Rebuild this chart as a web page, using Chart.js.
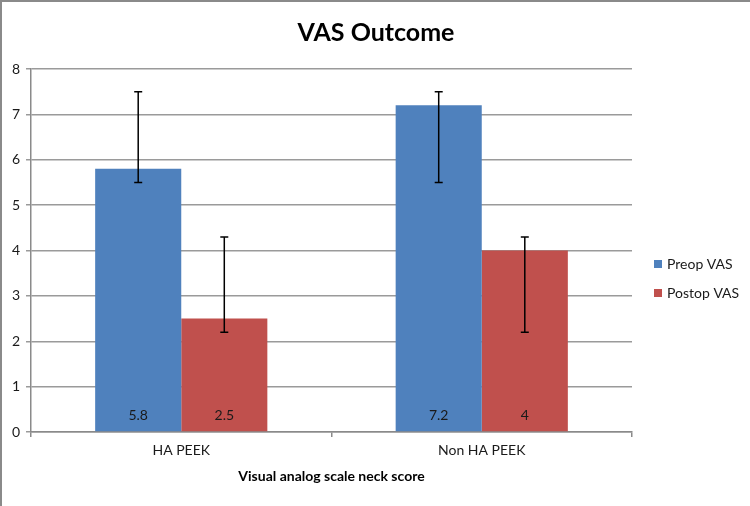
<!DOCTYPE html>
<html>
<head>
<meta charset="utf-8">
<script src="https://cdn.jsdelivr.net/npm/chart.js@4"></script>
<style>
  html, body { margin: 0; padding: 0; background: #fff; }
  #wrap {
    position: relative; width: 750px; height: 506px; box-sizing: border-box;
    border-top: 2px solid #8a8a8a; border-left: 2px solid #8a8a8a;
  }
  canvas { display: block; }
</style>
</head>
<body>
<div id="wrap"><canvas id="vasChart" width="748" height="504"></canvas></div>
<script>
/* ── DATA ─────────────────────────────────────────────── */
const categories = ['HA PEEK', 'Non HA PEEK'];
const seriesNames = ['Preop VAS', 'Postop VAS'];
const preopVAS  = [5.8, 7.2];
const postopVAS = [2.5, 4];
// error bar ends
const preopLow   = [5.5, 5.5];
const preopHigh  = [7.5, 7.5];
const postopLow  = [2.2, 2.2];
const postopHigh = [4.3, 4.3];
const yTicks = [0, 1, 2, 3, 4, 5, 6, 7, 8];
const chartTitle = 'VAS Outcome';

const FONT = 'Lato, "Open Sans", sans-serif';
const BLUE = '#4F81BD';
const RED  = '#C0504D';

/* ── PLUGINS ──────────────────────────────────────────── */
// title centred on the whole canvas, not just the plot area
const pageTitle = {
    id: 'pageTitle',
    afterDraw(chart) {
        const { ctx } = chart;
        ctx.save();
        ctx.fillStyle = '#000';
        ctx.font = `bold 25px ${FONT}`;
        ctx.textAlign = 'center';
        ctx.textBaseline = 'middle';
        ctx.fillText(chartTitle, chart.width / 2, 31);
        ctx.restore();
    }
};

const errorBars = {
    id: 'errorBars',
    afterDatasetsDraw(chart) {
        const { ctx } = chart;
        const y = chart.scales.y;
        ctx.save();
        ctx.strokeStyle = '#000';
        ctx.lineWidth = 1.5;
        chart.data.datasets.forEach((ds, di) => {
            chart.getDatasetMeta(di).data.forEach((bar, i) => {
                const x  = bar.x;
                const y1 = y.getPixelForValue(ds.errLow[i]);
                const y2 = y.getPixelForValue(ds.errHigh[i]);
                ctx.beginPath();
                ctx.moveTo(x, y1); ctx.lineTo(x, y2);
                ctx.moveTo(x - 4, y1); ctx.lineTo(x + 4, y1);
                ctx.moveTo(x - 4, y2); ctx.lineTo(x + 4, y2);
                ctx.stroke();
            });
        });
        ctx.restore();
    }
};

const barLabels = {
    id: 'barLabels',
    afterDatasetsDraw(chart) {
        const { ctx } = chart;
        ctx.save();
        ctx.fillStyle = '#1a1a1a';
        ctx.font = `14px ${FONT}`;
        ctx.textAlign = 'center';
        ctx.textBaseline = 'middle';
        chart.data.datasets.forEach((ds, di) => {
            chart.getDatasetMeta(di).data.forEach((bar, i) => {
                ctx.fillText(String(ds.data[i]), bar.x, chart.chartArea.bottom - 17);
            });
        });
        ctx.restore();
    }
};

const sideLegend = {
    id: 'sideLegend',
    afterDraw(chart) {
        const { ctx } = chart;
        ctx.save();
        ctx.font = `14px ${FONT}`;
        ctx.textBaseline = 'middle';
        chart.data.datasets.forEach((ds, di) => {
            const cy = 262 + di * 29;
            ctx.fillStyle = ds.backgroundColor;
            ctx.fillRect(652, cy - 4, 8, 8);
            ctx.fillStyle = '#1a1a1a';
            ctx.fillText(ds.label, 665, cy);
        });
        ctx.restore();
    }
};

/* ── CHART ────────────────────────────────────────────── */
new Chart(document.getElementById('vasChart'), {
    type: 'bar',
    data: {
        labels: categories,
        datasets: [
            { label: seriesNames[0], data: preopVAS, errLow: preopLow, errHigh: preopHigh,
              backgroundColor: BLUE, categoryPercentage: 0.573, barPercentage: 1 },
            { label: seriesNames[1], data: postopVAS, errLow: postopLow, errHigh: postopHigh,
              backgroundColor: RED, categoryPercentage: 0.573, barPercentage: 1 },
        ]
    },
    plugins: [pageTitle, errorBars, barLabels, sideLegend],
    options: {
        responsive: false,
        animation: false,
        layout: { padding: { left: 0, right: 118, top: 67, bottom: 17 } },
        plugins: {
            legend: { display: false },
            tooltip: { enabled: false },
            title: { display: false }
        },
        scales: {
            x: {
                afterFit: s => { s.height = 57; },
                grid: { offset: true, drawOnChartArea: false, color: '#8a8a8a', lineWidth: 1.5, tickLength: 5 },
                border: { color: '#8a8a8a', width: 1.5 },
                ticks: { color: '#1a1a1a', font: { family: FONT, size: 14 }, padding: 5 },
                title: {
                    display: true,
                    text: 'Visual analog scale neck score',
                    color: '#000',
                    font: { family: FONT, size: 14, weight: 'bold' },
                    padding: { top: 8 }
                }
            },
            y: {
                min: 0,
                max: 8,
                afterFit: s => { s.width = 29; },
                afterBuildTicks: s => { s.ticks = yTicks.map(v => ({ value: v })); },
                grid: { color: '#9a9a9a', lineWidth: 1.5, tickLength: 5 },
                border: { color: '#8a8a8a', width: 1.5 },
                ticks: { color: '#1a1a1a', font: { family: FONT, size: 14 }, padding: 6 }
            }
        }
    }
});
</script>
</body>
</html>
